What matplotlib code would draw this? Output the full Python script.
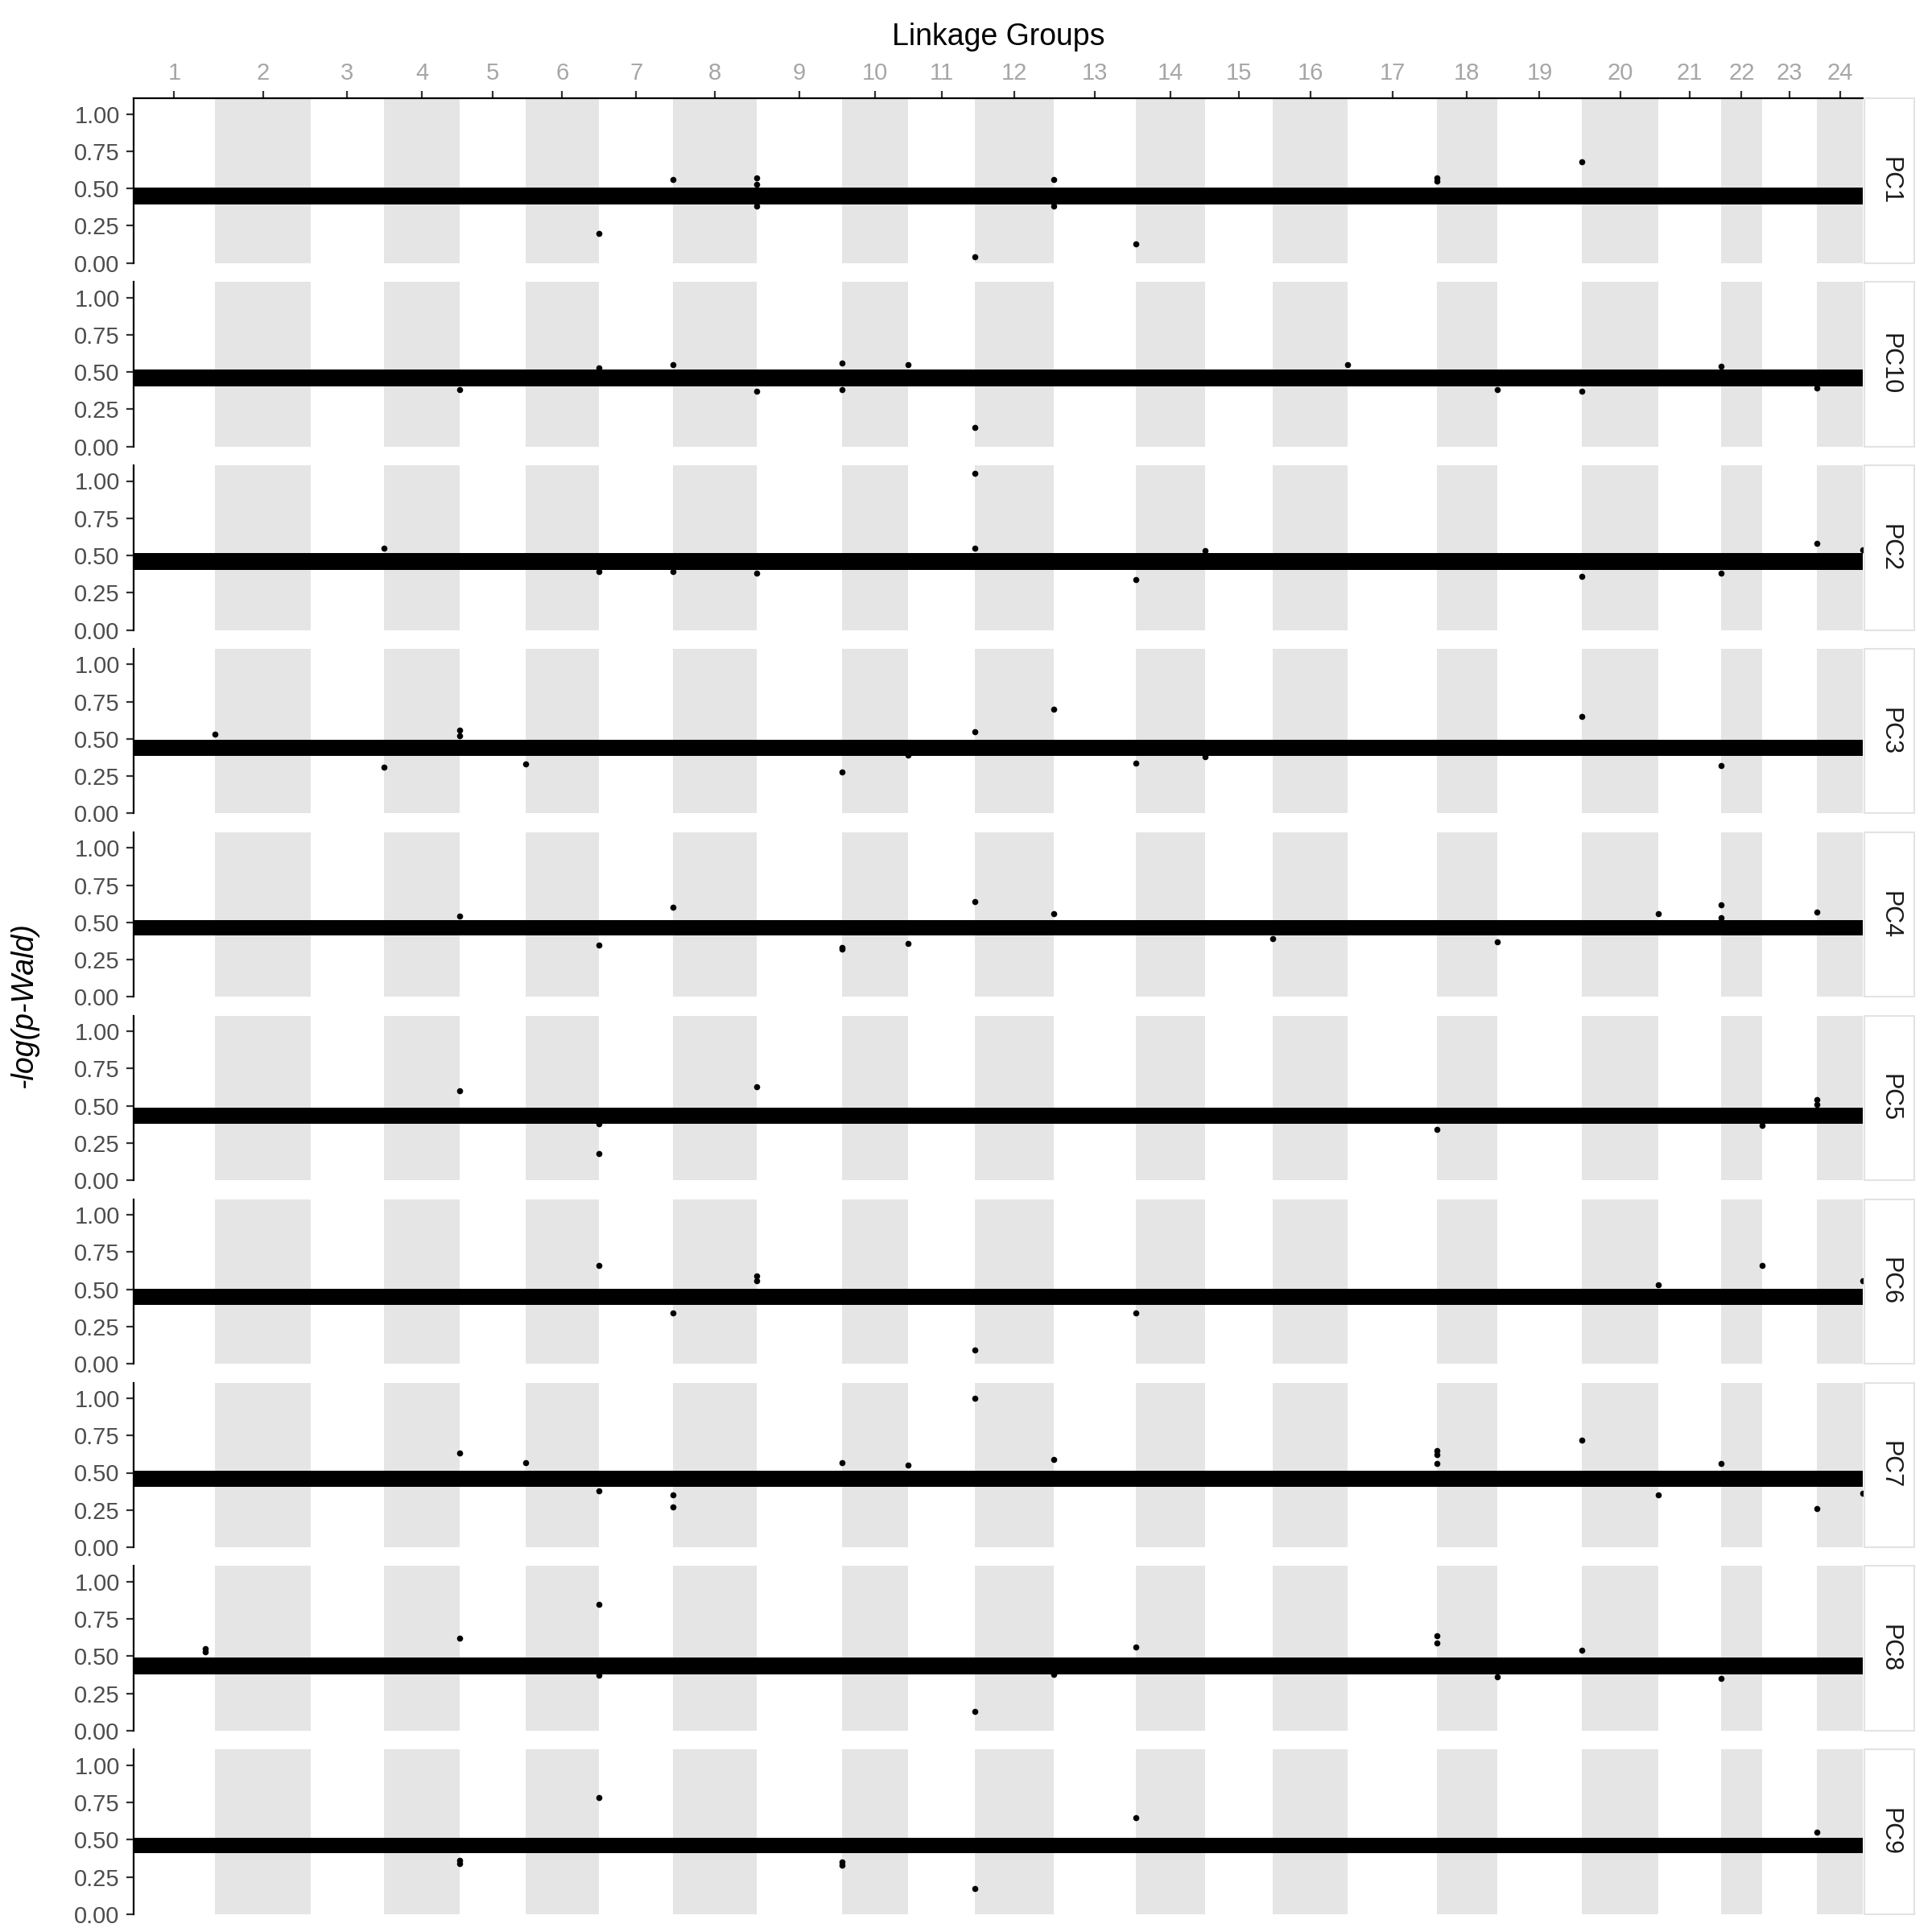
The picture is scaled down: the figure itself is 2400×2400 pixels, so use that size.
import numpy as np
import matplotlib
matplotlib.use("Agg")
import matplotlib.pyplot as plt
from matplotlib.patches import Rectangle

plt.rcParams['font.family'] = ['Liberation Sans', 'DejaVu Sans']

# ---------------- data ----------------
# linkage-group lengths (Mb, read from the panel widths)
group_names = [str(i) for i in range(1, 25)]
group_lengths = [66, 78, 59, 62, 53, 60, 60, 68, 69, 54, 54, 64,
                 67, 56, 55, 61, 72, 49, 69, 62, 51, 33, 45, 37]

panels = ["PC1", "PC10", "PC2", "PC3", "PC4", "PC5", "PC6", "PC7", "PC8", "PC9"]

# bulk of SNPs: dense band of -log(p) values (lower / upper edge) per panel
band_low = [0.395, 0.405, 0.405, 0.385, 0.41, 0.38, 0.395, 0.405, 0.38, 0.41]
band_high = [0.505, 0.515, 0.515, 0.495, 0.515, 0.485, 0.505, 0.515, 0.49, 0.515]

# outlying SNPs: (linkage group, -log(p)); they sit at the end of the group
pc1_out = [(6, 0.20), (11, 0.04), (13, 0.13), (19, 0.68), (7, 0.56), (8, 0.57),
           (8, 0.53), (8, 0.38), (12, 0.56), (12, 0.38), (17, 0.57), (17, 0.55)]
pc10_out = [(4, 0.38), (6, 0.53), (7, 0.55), (8, 0.37), (9, 0.56), (9, 0.38),
            (10, 0.55), (11, 0.13), (16, 0.55), (18, 0.38), (19, 0.37),
            (21, 0.54), (23, 0.39)]
pc2_out = [(3, 0.55), (6, 0.39), (7, 0.39), (8, 0.38), (11, 1.05), (11, 0.55),
           (13, 0.34), (14, 0.53), (19, 0.36), (21, 0.38), (23, 0.58), (24, 0.54)]
pc3_out = [(1, 0.53), (3, 0.31), (4, 0.56), (4, 0.52), (5, 0.33), (9, 0.28),
           (10, 0.39), (11, 0.55), (12, 0.70), (13, 0.34), (14, 0.38),
           (19, 0.65), (21, 0.32)]
pc4_out = [(4, 0.54), (6, 0.35), (7, 0.60), (9, 0.33), (9, 0.32), (10, 0.36),
           (11, 0.64), (12, 0.56), (15, 0.39), (18, 0.37), (20, 0.56),
           (21, 0.62), (21, 0.53), (23, 0.57)]
pc5_out = [(4, 0.60), (6, 0.18), (6, 0.38), (8, 0.63), (17, 0.34), (22, 0.37),
           (23, 0.54), (23, 0.51)]
pc6_out = [(6, 0.66), (7, 0.34), (8, 0.59), (8, 0.56), (11, 0.09), (13, 0.34),
           (20, 0.53), (22, 0.66), (24, 0.56)]
pc7_out = [(4, 0.63), (5, 0.57), (6, 0.38), (7, 0.35), (7, 0.27), (9, 0.57),
           (10, 0.55), (11, 1.00), (12, 0.59), (17, 0.65), (17, 0.62),
           (17, 0.56), (19, 0.72), (20, 0.35), (21, 0.56), (23, 0.26), (24, 0.36)]
pc8_out = [(4, 0.62), (6, 0.85), (6, 0.37), (11, 0.13), (12, 0.38), (13, 0.56),
           (17, 0.64), (17, 0.59), (18, 0.36), (19, 0.54), (21, 0.35)]
pc9_out = [(6, 0.78), (13, 0.65), (11, 0.17), (23, 0.55), (4, 0.36), (4, 0.34),
           (9, 0.35), (9, 0.33)]
# outliers inside a group: (panel, group, position in group Mb, -log(p))
inner_out = [("PC8", 1, 58, 0.55), ("PC8", 1, 58, 0.53)]

outliers = {"PC1": pc1_out, "PC10": pc10_out, "PC2": pc2_out, "PC3": pc3_out,
            "PC4": pc4_out, "PC5": pc5_out, "PC6": pc6_out, "PC7": pc7_out,
            "PC8": pc8_out, "PC9": pc9_out}

y_ticks = [0.0, 0.25, 0.5, 0.75, 1.0]

# ---------------- derived scale ----------------
lengths = np.array(group_lengths, dtype=float)
ends = np.cumsum(lengths)
starts = ends - lengths
centers = starts + lengths / 2
total = ends[-1]

# ---------------- figure ----------------
W = H = 2400
fig = plt.figure(figsize=(24, 24), dpi=100)
fig.patch.set_facecolor("white")

left_px, right_px = 166, 2314
y0_first, step = 326.7, 227.9
ymax = 1.105
unit_px = 185.0
panel_h = ymax * unit_px

shade = "#E5E5E5"
tick_grey = "#4D4D4D"

for i, name in enumerate(panels):
    y0 = y0_first + step * i
    ax = fig.add_axes([left_px / W, 1 - y0 / H, (right_px - left_px) / W, panel_h / H])
    ax.set_xlim(0, total)
    ax.set_ylim(0, ymax)
    ax.set_facecolor("white")

    for g in range(1, len(lengths), 2):
        ax.axvspan(starts[g], ends[g], color=shade, lw=0, zorder=0)

    ax.fill_between([0, total], [band_low[i]] * 2, [band_high[i]] * 2,
                    color="black", lw=0, zorder=2)

    xs = [ends[g - 1] for g, v in outliers[name]]
    ys = [v for g, v in outliers[name]]
    for p, g, pos, v in inner_out:
        if p == name:
            xs.append(starts[g - 1] + pos)
            ys.append(v)
    ax.scatter(xs, ys, s=30, color="black", lw=0, zorder=3, clip_on=False)

    for s in ["right", "bottom"]:
        ax.spines[s].set_visible(False)
    ax.spines["left"].set_linewidth(1.6)
    ax.spines["left"].set_color("black")
    ax.set_yticks(y_ticks)
    ax.set_yticklabels(["%.2f" % t for t in y_ticks])
    ax.tick_params(axis="y", length=6.5, width=1.6, color="#333333",
                   labelsize=21, labelcolor=tick_grey, pad=6)
    if i == 0:
        ax.spines["top"].set_linewidth(1.6)
        ax.spines["top"].set_color("black")
        ax.xaxis.tick_top()
        ax.set_xticks(centers)
        ax.set_xticklabels(group_names)
        ax.tick_params(axis="x", length=6.5, width=1.6, color="#333333",
                       labelsize=21, labelcolor="#A6A6A6", pad=6)
    else:
        ax.spines["top"].set_visible(False)
        ax.set_xticks([])

    # facet strip
    sx0, sx1 = 2316, 2378
    fig.add_artist(Rectangle((sx0 / W, 1 - y0 / H), (sx1 - sx0) / W, panel_h / H,
                             transform=fig.transFigure, facecolor="white",
                             edgecolor="#E3E3E3", lw=1.5))
    fig.text((sx0 + sx1) / 2 / W, 1 - (y0 - panel_h / 2) / H, name,
             rotation=-90, ha="center", va="center", fontsize=22, color="#1A1A1A")

fig.text((left_px + right_px) / 2 / W, 1 - 46 / H, "Linkage Groups",
         ha="center", va="center", fontsize=27, color="black")
fig.text(30 / W, 1 - 1249 / H, "-log(p-Wald)", rotation=90, ha="center",
         va="center", fontsize=27, style="italic", color="black")

fig.savefig("out.png", dpi=100, facecolor="white")
